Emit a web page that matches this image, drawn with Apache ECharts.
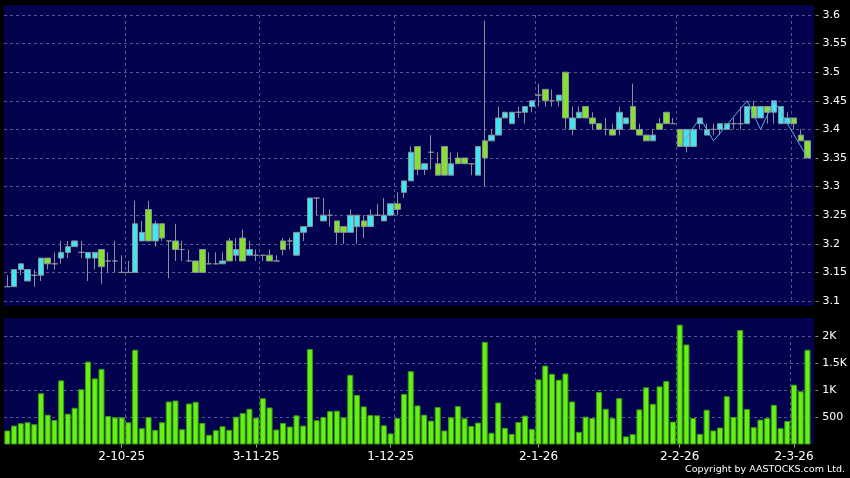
<!DOCTYPE html>
<html><head><meta charset="utf-8">
<script src="https://cdn.jsdelivr.net/npm/echarts@6/dist/echarts.min.js"></script>
<style>html,body{margin:0;padding:0;background:#000;}#c{width:850px;height:478px;}</style>
</head><body><div id="c"></div>
<script>
const dates = [
'8-9-25','9-9-25','10-9-25','11-9-25','12-9-25','15-9-25','16-9-25','17-9-25','18-9-25','19-9-25','22-9-25','23-9-25','24-9-25','25-9-25','26-9-25','29-9-25','30-9-25',
'2-10-25','3-10-25','6-10-25','8-10-25','9-10-25','10-10-25','13-10-25','14-10-25','15-10-25','16-10-25','17-10-25','20-10-25','21-10-25','22-10-25','23-10-25','24-10-25','27-10-25','28-10-25','30-10-25','31-10-25',
'3-11-25','4-11-25','5-11-25','6-11-25','7-11-25','10-11-25','11-11-25','12-11-25','13-11-25','14-11-25','17-11-25','18-11-25','19-11-25','20-11-25','21-11-25','24-11-25','25-11-25','26-11-25','27-11-25','28-11-25',
'1-12-25','2-12-25','3-12-25','4-12-25','5-12-25','8-12-25','9-12-25','10-12-25','11-12-25','12-12-25','15-12-25','16-12-25','17-12-25','18-12-25','19-12-25','22-12-25','23-12-25','24-12-25','26-12-25','29-12-25','30-12-25','31-12-25',
'2-1-26','5-1-26','6-1-26','7-1-26','8-1-26','9-1-26','12-1-26','13-1-26','14-1-26','15-1-26','16-1-26','19-1-26','20-1-26','21-1-26','22-1-26','23-1-26','26-1-26','27-1-26','28-1-26','29-1-26','30-1-26',
'2-2-26','3-2-26','4-2-26','5-2-26','6-2-26','9-2-26','10-2-26','11-2-26','12-2-26','13-2-26','16-2-26','20-2-26','23-2-26','24-2-26','25-2-26','26-2-26','27-2-26',
'2-3-26','3-3-26','4-3-26'];

const opens = [
3.125,3.125,3.155,3.135,3.145,3.145,3.175,3.165,3.175,3.185,
3.195,3.185,3.175,3.175,3.19,3.17,3.17,3.15,3.15,3.15,
3.205,3.26,3.205,3.235,3.205,3.205,3.19,3.17,3.17,3.19,
3.165,3.165,3.165,3.205,3.18,3.21,3.18,3.18,3.18,3.18,
3.17,3.205,3.205,3.18,3.22,3.23,3.28,3.24,3.25,3.24,
3.23,3.22,3.23,3.24,3.23,3.25,3.24,3.25,3.27,3.29,
3.31,3.37,3.33,3.36,3.34,3.37,3.32,3.35,3.35,3.34,
3.32,3.38,3.38,3.39,3.42,3.41,3.43,3.43,3.44,3.46,
3.47,3.45,3.45,3.50,3.40,3.42,3.44,3.42,3.41,3.40,
3.40,3.40,3.41,3.44,3.40,3.39,3.38,3.41,3.43,3.41,
3.40,3.37,3.37,3.41,3.39,3.40,3.40,3.40,3.41,3.41,
3.41,3.44,3.42,3.44,3.43,3.41,3.41,3.42,3.39,3.38];

const closes = [
3.125,3.155,3.165,3.155,3.145,3.175,3.165,3.165,3.185,3.195,
3.205,3.185,3.185,3.185,3.16,3.17,3.17,3.15,3.15,3.235,
3.22,3.205,3.235,3.21,3.205,3.19,3.19,3.17,3.15,3.15,
3.165,3.165,3.17,3.17,3.19,3.17,3.19,3.18,3.18,3.17,
3.17,3.19,3.205,3.22,3.23,3.28,3.28,3.25,3.25,3.22,
3.22,3.25,3.25,3.23,3.25,3.25,3.25,3.27,3.26,3.31,
3.36,3.33,3.34,3.36,3.32,3.32,3.34,3.34,3.34,3.34,
3.37,3.35,3.39,3.42,3.43,3.43,3.43,3.44,3.45,3.46,
3.45,3.45,3.46,3.42,3.42,3.43,3.42,3.41,3.40,3.40,
3.39,3.43,3.42,3.40,3.39,3.38,3.39,3.40,3.41,3.41,
3.37,3.40,3.40,3.42,3.40,3.40,3.41,3.41,3.41,3.41,
3.44,3.42,3.44,3.43,3.45,3.44,3.42,3.41,3.38,3.35];

const lows = [
3.125,3.125,3.145,3.135,3.125,3.135,3.155,3.155,3.165,3.175,
3.195,3.175,3.135,3.155,3.13,3.15,3.15,3.15,3.15,3.15,
3.205,3.205,3.195,3.205,3.14,3.17,3.17,3.17,3.15,3.15,
3.165,3.165,3.165,3.17,3.17,3.17,3.18,3.17,3.17,3.17,
3.17,3.18,3.19,3.18,3.205,3.23,3.25,3.24,3.23,3.20,
3.20,3.22,3.20,3.21,3.23,3.25,3.24,3.25,3.25,3.28,
3.31,3.32,3.32,3.33,3.32,3.32,3.32,3.34,3.34,3.32,
3.32,3.30,3.38,3.39,3.42,3.41,3.42,3.41,3.43,3.44,
3.44,3.44,3.44,3.40,3.39,3.42,3.42,3.40,3.40,3.39,
3.39,3.39,3.41,3.40,3.39,3.38,3.38,3.40,3.41,3.41,
3.37,3.36,3.37,3.40,3.39,3.39,3.39,3.40,3.40,3.40,
3.41,3.42,3.42,3.41,3.41,3.41,3.41,3.40,3.38,3.35];

const highs = [
3.145,3.155,3.165,3.155,3.155,3.175,3.175,3.185,3.205,3.205,
3.205,3.205,3.185,3.185,3.19,3.185,3.205,3.18,3.17,3.275,
3.24,3.275,3.24,3.235,3.205,3.235,3.205,3.19,3.17,3.19,
3.185,3.185,3.185,3.21,3.21,3.225,3.205,3.19,3.18,3.19,
3.18,3.21,3.21,3.22,3.23,3.28,3.28,3.28,3.26,3.24,
3.23,3.26,3.25,3.25,3.26,3.27,3.28,3.27,3.29,3.31,
3.37,3.37,3.34,3.39,3.36,3.37,3.36,3.36,3.35,3.34,
3.37,3.59,3.40,3.44,3.43,3.43,3.44,3.44,3.45,3.48,
3.47,3.47,3.46,3.50,3.44,3.44,3.44,3.43,3.41,3.42,
3.41,3.44,3.42,3.48,3.41,3.39,3.40,3.42,3.43,3.42,
3.40,3.40,3.40,3.42,3.41,3.41,3.41,3.41,3.42,3.44,
3.44,3.45,3.44,3.44,3.45,3.44,3.43,3.42,3.40,3.38];

const volumes = [
258,349,392,410,374,945,550,453,1182,568,
677,1018,1528,1218,1394,525,501,501,410,1747,
301,507,270,410,793,811,282,756,787,398,
179,264,337,270,513,580,659,495,854,683,
276,398,331,538,349,1759,447,507,617,623,
501,1285,914,702,544,538,355,204,489,933,
1352,720,550,440,690,258,501,708,483,343,
404,1892,216,775,307,197,416,532,289,1200,
1455,1303,1194,1309,793,234,513,489,969,659,
489,854,149,191,647,1054,750,1072,1169,422,
2208,1844,489,197,641,258,313,890,507,2111,
653,319,459,489,732,301,434,1103,981,1747];

const overlayDates = ['2-2-26','5-2-26','9-2-26','16-2-26','23-2-26','25-2-26','4-3-26'];
const overlayValues = [3.37,3.42,3.38,3.45,3.40,3.45,3.35];

const tickLabels = ['2-10-25','3-11-25','1-12-25','2-1-26','2-2-26','2-3-26'];
const gridLineDates = ['3-10-25','4-11-25','2-12-25','2-1-26','2-2-26','2-3-26'];

const candleData = dates.map((d, i) => [opens[i], closes[i], lows[i], highs[i]]);
const lineData = dates.map(d => { const k = overlayDates.indexOf(d); return k >= 0 ? overlayValues[k] : null; });

const labelFn = (i) => tickLabels.indexOf(dates[i]) >= 0;
const gridFn = (i) => gridLineDates.indexOf(dates[i]) >= 0;
const gridStyle = { color: '#54548e', type: [3, 3], width: 1 };
const FONT = 'DejaVu Sans';

const chart = echarts.init(document.getElementById('c'), null, { renderer: 'canvas' });
chart.setOption({
  backgroundColor: '#000000',
  animation: false,
  textStyle: { fontFamily: FONT },
  graphic: [
    { type: 'rect', z: -10, silent: true, shape: { x: 4, y: 5, width: 810, height: 301 }, style: { fill: '#02024e' } },
    { type: 'rect', z: -10, silent: true, shape: { x: 4, y: 318, width: 810, height: 126 }, style: { fill: '#02024e' } },
    { type: 'text', right: 5, top: 465, style: { text: 'Copyright by AASTOCKS.com Ltd.', fill: '#ffffff', font: '9.5px "DejaVu Sans"' } }
  ],
  grid: [
    { left: 4, width: 810, top: 15, height: 286 },
    { left: 4, width: 810, top: 336, height: 108.5 }
  ],
  xAxis: [
    { type: 'category', gridIndex: 0, data: dates, boundaryGap: true,
      axisLine: { show: false }, axisTick: { show: false }, axisLabel: { show: false },
      splitLine: { show: true, interval: gridFn, showMaxLine: false, lineStyle: gridStyle } },
    { type: 'category', gridIndex: 1, data: dates, boundaryGap: true,
      axisLine: { show: false },
      axisTick: { show: true, interval: labelFn, alignWithLabel: true, length: 3, lineStyle: { color: '#aaaaaa' } },
      axisLabel: { interval: labelFn, color: '#ffffff', fontSize: 12, fontFamily: FONT, margin: 6 },
      splitLine: { show: true, interval: gridFn, showMaxLine: false, lineStyle: gridStyle } }
  ],
  yAxis: [
    { type: 'value', gridIndex: 0, position: 'right', min: 3.1, max: 3.6, interval: 0.05, scale: true,
      axisLine: { show: false }, axisTick: { show: false },
      splitLine: { show: true, lineStyle: gridStyle },
      axisLabel: { margin: 4, color: '#ffffff', fontSize: 11, fontFamily: FONT,
        formatter: v => '{d|-} ' + (+v.toFixed(2)),
        rich: { d: { color: '#9a9a9a', fontSize: 11, fontFamily: FONT } } } },
    { type: 'value', gridIndex: 1, position: 'right', min: 0, max: 2000, interval: 500,
      axisLine: { show: false }, axisTick: { show: false },
      splitLine: { show: true, showMinLine: false, lineStyle: gridStyle },
      axisLabel: { margin: 4, color: '#ffffff', fontSize: 11, fontFamily: FONT,
        formatter: v => v === 0 ? '' : '{d|-} ' + (v >= 1000 ? (v / 1000) + 'K' : v),
        rich: { d: { color: '#9a9a9a', fontSize: 11, fontFamily: FONT } } } }
  ],
  series: [
    { type: 'candlestick', xAxisIndex: 0, yAxisIndex: 0, data: candleData, barWidth: 6,
      itemStyle: { color: '#3fe6f2', color0: '#84e22e', borderColor: '#8a9098', borderColor0: '#8a9098', borderColorDoji: '#8a9098', borderWidth: 1 } },
    { type: 'line', xAxisIndex: 0, yAxisIndex: 0, data: lineData, connectNulls: true, symbol: 'none',
      lineStyle: { color: '#5aaee8', width: 1 }, z: 3 },
    { type: 'bar', xAxisIndex: 1, yAxisIndex: 1, data: volumes, barWidth: 6, clip: false,
      itemStyle: { color: '#66f014', borderColor: '#3a9a12', borderWidth: 1 } }
  ]
});
</script>
</body></html>
